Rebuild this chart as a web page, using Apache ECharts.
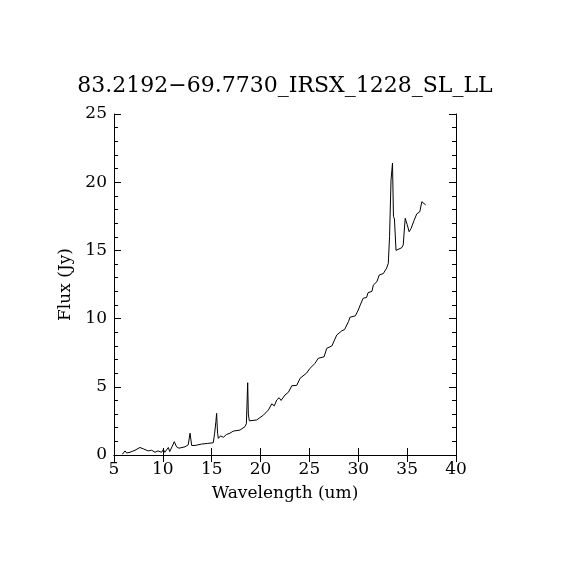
<!DOCTYPE html>
<html><head><meta charset="utf-8">
<script src="https://cdn.jsdelivr.net/npm/echarts@6/dist/echarts.min.js"></script>
<style>html,body{margin:0;padding:0;background:#fff}#c{width:570px;height:570px}</style>
</head><body><div id="c"></div>
<script>
var titleText = '83.2192\u221269.7730_IRSX_1228_SL_LL';
var xName = 'Wavelength (um)';
var yName = 'Flux (Jy)';
var wavelength = [5.85,6.13,6.3,6.64,7.15,7.66,8.0,8.5,8.85,9.2,9.5,9.88,10.05,10.2,10.56,10.7,10.97,11.17,11.4,11.65,12.27,12.6,12.78,12.95,13.3,13.97,14.6,15.16,15.3,15.43,15.5,15.6,15.68,15.9,16.2,16.5,16.87,17.2,17.9,18.4,18.55,18.68,18.75,18.85,19.0,19.6,20.3,20.8,21.15,21.4,21.65,21.9,22.1,22.5,22.85,23.2,23.7,24.04,24.7,25.06,25.57,25.9,26.5,26.77,27.3,27.8,28.3,28.6,29.0,29.15,29.7,30.0,30.2,30.5,30.85,31.0,31.4,31.54,31.9,32.15,32.56,32.9,33.07,33.2,33.35,33.5,33.6,33.7,33.86,34.05,34.45,34.6,34.8,35.0,35.2,35.4,35.7,35.98,36.3,36.5,36.6,36.9];
var flux = [0.05,0.3,0.15,0.2,0.35,0.55,0.45,0.3,0.35,0.2,0.3,0.2,0.4,0.2,0.55,0.25,0.65,0.98,0.6,0.5,0.6,0.75,1.6,0.7,0.7,0.8,0.85,0.9,1.6,2.45,3.05,1.6,1.22,1.4,1.3,1.5,1.6,1.75,1.83,2.08,2.3,5.3,3.0,2.5,2.45,2.57,2.93,3.3,3.75,3.6,4.03,4.2,4.0,4.4,4.6,5.08,5.1,5.62,6.0,6.35,6.72,7.09,7.2,7.82,8.0,8.8,9.1,9.2,9.78,10.1,10.2,10.63,11.0,11.49,11.55,11.9,12.0,12.46,12.7,13.2,13.3,13.7,14.05,16.0,20.15,21.4,17.5,17.3,15.0,15.05,15.2,15.4,17.35,16.9,16.37,16.6,17.18,17.67,17.84,18.57,18.45,18.33];
var xTicks = [5,10,15,20,25,30,35,40];
var yTicks = [0,5,10,15,20,25];

var pts = wavelength.map(function(w,i){return [w, flux[i]];});
var font = 'DejaVu Serif';
var chart = echarts.init(document.getElementById('c'), null, {renderer:'canvas'});
var axisLineStyle = {show:true, lineStyle:{color:'#000', width:1}};
chart.setOption({
  backgroundColor:'#fff',
  animation:false,
  title:{text:titleText, left:'center', top:70, textStyle:{fontFamily:font, fontSize:22, fontWeight:'normal', color:'#000'}},
  grid:{left:114, right:114, top:114, bottom:115, containLabel:false},
  xAxis:[{
    type:'value', min:xTicks[0], max:xTicks[xTicks.length-1], interval:5, position:'bottom',
    name:xName, nameLocation:'middle', nameGap:30,
    nameTextStyle:{fontFamily:font, fontSize:17, color:'#000'},
    axisLine:axisLineStyle,
    axisTick:{show:true, inside:true, length:7, lineStyle:{color:'#000'}},
    minorTick:{show:false},
    axisLabel:{fontFamily:font, fontSize:17, color:'#000', margin:6},
    splitLine:{show:false}
  },{
    type:'value', min:xTicks[0], max:xTicks[xTicks.length-1], interval:5, position:'top',
    axisLine:axisLineStyle,
    axisTick:{show:true, inside:true, length:7, lineStyle:{color:'#000'}},
    axisLabel:{show:false}, splitLine:{show:false}
  }],
  yAxis:[{
    type:'value', min:yTicks[0], max:yTicks[yTicks.length-1], interval:5, position:'left',
    name:yName, nameLocation:'middle', nameGap:40, nameRotate:90,
    nameTextStyle:{fontFamily:font, fontSize:17, color:'#000'},
    axisLine:axisLineStyle,
    axisTick:{show:true, inside:true, length:7, lineStyle:{color:'#000'}},
    minorTick:{show:true, splitNumber:5, length:4, lineStyle:{color:'#000'}},
    axisLabel:{fontFamily:font, fontSize:17, color:'#000', margin:7},
    splitLine:{show:false}
  },{
    type:'value', min:yTicks[0], max:yTicks[yTicks.length-1], interval:5, position:'right',
    axisLine:axisLineStyle,
    axisTick:{show:true, inside:true, length:7, lineStyle:{color:'#000'}},
    minorTick:{show:true, splitNumber:5, length:4, lineStyle:{color:'#000'}},
    axisLabel:{show:false}, splitLine:{show:false}
  }],
  series:[{
    type:'line', data:pts, showSymbol:false, symbol:'none',
    lineStyle:{color:'#000', width:1}, xAxisIndex:0, yAxisIndex:0
  }]
});
</script></body></html>
